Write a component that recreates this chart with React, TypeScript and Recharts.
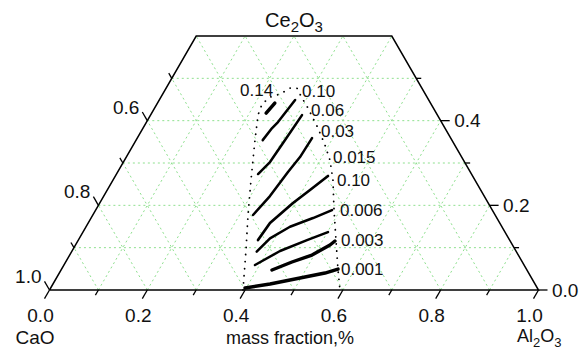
import { ComposedChart, XAxis, YAxis, Scatter, ReferenceLine } from 'recharts';

// compositions are [Al2O3, Ce2O3] mass fractions, CaO is the rest
const TOP = 0.6; // diagram is cut at Ce2O3 = 0.6

const iso1 = [[0.234, 0.418], [0.24, 0.4415]];
const iso2 = [[0.259, 0.354], [0.264, 0.3825], [0.269, 0.3966], [0.278, 0.4486]];
const iso3 = [[0.2895, 0.2739], [0.2998, 0.3022], [0.304, 0.3471], [0.3098, 0.4132]];
const iso4 = [[0.3277, 0.1771], [0.3399, 0.2219], [0.3484, 0.2786], [0.3553, 0.314], [0.3574, 0.3589]];
const iso5 = [[0.3674, 0.118], [0.3718, 0.1582], [0.3953, 0.2054], [0.4147, 0.2361], [0.4349, 0.2692]];
const iso6 = [[0.3785, 0.0904], [0.3899, 0.1221], [0.4171, 0.1494], [0.4539, 0.17], [0.4833, 0.1889]];
const iso7 = [[0.3907, 0.059], [0.4254, 0.0921], [0.4676, 0.118], [0.501, 0.1369]];
const iso8 = [[0.4314, 0.0472], [0.4628, 0.0661], [0.4955, 0.0826], [0.5205, 0.1062], [0.5259, 0.1157]];
const iso9 = [[0.3974, 0.0047], [0.4438, 0.0142], [0.4981, 0.0283], [0.5433, 0.0401], [0.5652, 0.0496]];
const isolines = [iso1, iso2, iso3, iso4, iso5, iso6, iso7, iso8, iso9];
const isoWidth = [3.5, 2.5, 2.5, 2.5, 2.7, 2.5, 2.5, 3.4, 3.4];

const isoLabels = ['0.14', '0.10', '0.06', '0.03', '0.015', '0.10', '0.006', '0.003', '0.001'];
const isoLabelAt = [
  [0.1535, 0.4722], [0.2815, 0.4698], [0.3223, 0.425], [0.3675, 0.3754], [0.4227, 0.314],
  [0.458, 0.2597], [0.4997, 0.1889], [0.5371, 0.118], [0.5713, 0.0496],
];

// dotted outline of the computed region
const region = [
  [0.3957, 0], [0.3546, 0.0944], [0.3174, 0.1771], [0.2822, 0.2597], [0.2431, 0.3542],
  [0.2198, 0.4132], [0.215, 0.4391], [0.2231, 0.4557], [0.24, 0.4628], [0.2533, 0.4769],
  [0.2676, 0.4769], [0.2853, 0.458], [0.3137, 0.4297], [0.3578, 0.3825], [0.3922, 0.3423],
  [0.4201, 0.3069], [0.4498, 0.2597], [0.4874, 0.1889], [0.5269, 0.118], [0.5664, 0.0472],
  [0.594, 0],
];

const alTicks = [0, 0.2, 0.4, 0.6, 0.8, 1.0];
const alTickLabels = ['0.0', '0.2', '0.4', '0.6', '0.8', '1.0'];
const alMinor = [0.1, 0.3, 0.5, 0.7, 0.9];
const caoTicks = [0.6, 0.8, 1.0];
const caoTickLabels = ['0.6', '0.8', '1.0'];
const caoMinor = [0.5, 0.7, 0.9];
const ceTicks = [0, 0.2, 0.4];
const ceTickLabels = ['0.0', '0.2', '0.4'];
const ceMinor = [0.1, 0.3, 0.5];
const gridSteps = [0.1, 0.2, 0.3, 0.4, 0.5, 0.6, 0.7, 0.8, 0.9];

const FONT = '"Liberation Sans", Arial, sans-serif';
const W = 586;
const H = 352;

const xy = (p: number[]) => ({ x: p[0] + p[1] / 2, y: p[1] });

const frame = [[0, 0], [1, 0], [1 - TOP, TOP], [0, TOP], [0, 0]].map(xy);

// green triangular grid, clipped to the cut triangle
const gridLines: number[][][] = [];
gridSteps.forEach((c) => {
  const top = Math.min(1 - c, TOP);
  if (c < TOP) gridLines.push([[0, c], [1 - c, c]]);
  gridLines.push([[c, 0], [c, top]]);
  gridLines.push([[1 - c, 0], [1 - c - top, top]]);
});

const none = () => <g />;

type Dir = [number, number];
const BASE: Dir = [-0.5, 0.866];
const LEFT: Dir = [-0.5, -0.866];
const RIGHT: Dir = [1, 0];

const tickMark = (dir: Dir, len: number) => (p: any) => (
  <line x1={p.cx} y1={p.cy} x2={p.cx + dir[0] * len} y2={p.cy + dir[1] * len} stroke="#000" strokeWidth={1.3} />
);

const tickWithLabel = (dir: Dir, len: number, place: (ex: number, ey: number) => [number, number, string]) => (p: any) => {
  const ex = p.cx + dir[0] * len;
  const ey = p.cy + dir[1] * len;
  const [tx, ty, anchor] = place(ex, ey);
  return (
    <g>
      <line x1={p.cx} y1={p.cy} x2={ex} y2={ey} stroke="#000" strokeWidth={1.3} />
      <text x={tx} y={ty} textAnchor={anchor as any} fontFamily={FONT} fontSize={19} fill="#111">
        {p.payload.label}
      </text>
    </g>
  );
};

const textShape = (dx: number, dy: number, size: number, anchor: string) => (p: any) => (
  <text x={p.cx + dx} y={p.cy + dy} textAnchor={anchor as any} fontFamily={FONT} fontSize={size} fill="#111">
    {p.payload.label}
  </text>
);

const formula = (a: string, b: string, c: string, d: string, dx: number, dy: number, anchor: string, size: number) => (p: any) => (
  <text x={p.cx + dx} y={p.cy + dy} textAnchor={anchor as any} fontFamily={FONT} fontSize={size} fill="#111">
    <tspan>{a}</tspan>
    <tspan dy={5} fontSize={size - 5}>{b}</tspan>
    <tspan dy={-5}>{c}</tspan>
    <tspan dy={5} fontSize={size - 5}>{d}</tspan>
  </text>
);

export default function App() {
  return (
    <div style={{ position: 'absolute', left: 0, top: 0, width: W, height: H, background: '#fff' }}>
      <ComposedChart width={W} height={H} margin={{ top: 36, right: 47.5, bottom: 62, left: 49.5 }}>
        <XAxis type="number" dataKey="x" domain={[0, 1]} hide />
        <YAxis type="number" dataKey="y" domain={[0, TOP]} hide />
        {gridLines.map((s, i) => (
          <ReferenceLine
            key={'g' + i}
            segment={[xy(s[0]), xy(s[1])]}
            stroke="#8fe08f"
            strokeWidth={1}
            strokeDasharray="2 3"
          />
        ))}
        <Scatter
          data={frame}
          shape={none}
          line={{ stroke: '#000', strokeWidth: 1.5 }}
          isAnimationActive={false}
        />
        {isolines.map((pts, i) => (
          <Scatter
            key={'iso' + i}
            data={pts.map(xy)}
            shape={none}
            line={{ stroke: '#000', strokeWidth: isoWidth[i], strokeLinecap: 'round', strokeLinejoin: 'round' }}
            isAnimationActive={false}
          />
        ))}
        <Scatter
          data={region.map(xy)}
          shape={none}
          line={{ stroke: '#000', strokeWidth: 1.8, strokeDasharray: '0.1 7', strokeLinecap: 'round' }}
          isAnimationActive={false}
        />
        <Scatter
          data={isoLabels.map((label, i) => ({ ...xy(isoLabelAt[i]), label }))}
          shape={textShape(0, 6, 17, 'start')}
          isAnimationActive={false}
        />
        {/* base axis: Al2O3 */}
        <Scatter data={alMinor.map((a) => xy([a, 0]))} shape={tickMark(BASE, 6)} isAnimationActive={false} />
        <Scatter
          data={alTicks.map((a, i) => ({ ...xy([a, 0]), label: alTickLabels[i] }))}
          shape={tickWithLabel(BASE, 10, (ex) => [ex - 4, 322, 'middle'])}
          isAnimationActive={false}
        />
        {/* left axis: CaO */}
        <Scatter data={caoMinor.map((k) => xy([0, 1 - k]))} shape={tickMark(LEFT, 6)} isAnimationActive={false} />
        <Scatter
          data={caoTicks.map((k, i) => ({ ...xy([0, 1 - k]), label: caoTickLabels[i] }))}
          shape={tickWithLabel(LEFT, 10, (ex, ey) => [ex - 3, ey + 1.5, 'end'])}
          isAnimationActive={false}
        />
        {/* right axis: Ce2O3 */}
        <Scatter data={ceMinor.map((c) => xy([1 - c, c]))} shape={tickMark(RIGHT, 5)} isAnimationActive={false} />
        <Scatter
          data={ceTicks.map((c, i) => ({ ...xy([1 - c, c]), label: ceTickLabels[i] }))}
          shape={tickWithLabel(RIGHT, 9, (ex, ey) => [ex + 4.5, ey + 6.8, 'start'])}
          isAnimationActive={false}
        />
        {/* component names */}
        <Scatter data={[{ ...xy([0, 0]), label: 'CaO' }]} shape={textShape(-14.5, 54, 19, 'middle')} isAnimationActive={false} />
        <Scatter
          data={[{ ...xy([0.5, 0]), label: 'mass fraction,%' }]}
          shape={textShape(-4, 54, 18, 'middle')}
          isAnimationActive={false}
        />
        <Scatter data={[xy([1, 0])]} shape={formula('Al', '2', 'O', '3', -21.5, 52, 'start', 18)} isAnimationActive={false} />
        <Scatter data={[xy([(1 - TOP) / 2, TOP])]} shape={formula('Ce', '2', 'O', '3', 0, -9, 'middle', 20)} isAnimationActive={false} />
      </ComposedChart>
    </div>
  );
}
